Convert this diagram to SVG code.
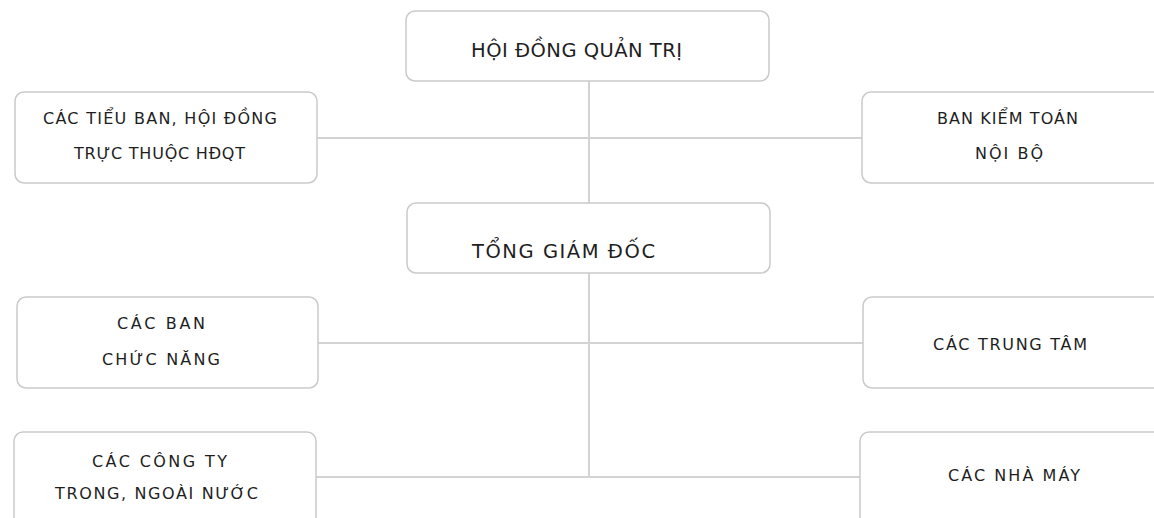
<svg xmlns="http://www.w3.org/2000/svg" width="1154" height="518" viewBox="0 0 1154 518">
<style>
.box{fill:#fff;stroke:#cacaca;stroke-width:1.5}
.ln{stroke:#d3d3d3;stroke-width:2;fill:none}
text{font-family:"DejaVu Sans","Liberation Sans",sans-serif;fill:#1e1e1e;text-anchor:middle}
.big{font-size:19.5px}
.sm{font-size:16px}
</style>
<rect width="1154" height="518" fill="#fff"/>
<g id="connectors">
<line class="ln" x1="589" y1="81" x2="589" y2="477"/>
<line class="ln" x1="317" y1="138" x2="862" y2="138"/>
<line class="ln" x1="318" y1="343" x2="863" y2="343"/>
<line class="ln" x1="316" y1="477" x2="860" y2="477"/>
</g>
<g id="hdqt">
<rect class="box" x="406" y="11" width="363" height="70" rx="9"/>
<text class="big" x="576.5" y="57" textLength="211" lengthAdjust="spacing">HỘI ĐỒNG QUẢN TRỊ</text>
</g>
<g id="tieuban">
<rect class="box" x="15" y="92" width="302" height="91" rx="9"/>
<text class="sm" x="160" y="124" textLength="234" lengthAdjust="spacing">CÁC TIỂU BAN, HỘI ĐỒNG</text>
<text class="sm" x="159.5" y="159" textLength="171" lengthAdjust="spacing">TRỰC THUỘC HĐQT</text>
</g>
<g id="kiemtoan">
<rect class="box" x="862" y="92" width="310" height="91" rx="9"/>
<text class="sm" x="1007.5" y="124" textLength="141" lengthAdjust="spacing">BAN KIỂM TOÁN</text>
<text class="sm" x="1009" y="159" textLength="68" lengthAdjust="spacing">NỘI BỘ</text>
</g>
<g id="tgd">
<rect class="box" x="407" y="203" width="363" height="70" rx="9"/>
<text class="big" x="563.5" y="258" textLength="183" lengthAdjust="spacing">TỔNG GIÁM ĐỐC</text>
</g>
<g id="cacban">
<rect class="box" x="17" y="297" width="301" height="91" rx="9"/>
<text class="sm" x="161" y="329" textLength="88" lengthAdjust="spacing">CÁC BAN</text>
<text class="sm" x="161" y="365" textLength="118" lengthAdjust="spacing">CHỨC NĂNG</text>
</g>
<g id="trungtam">
<rect class="box" x="863" y="297" width="310" height="91" rx="9"/>
<text class="sm" x="1010" y="350" textLength="154" lengthAdjust="spacing">CÁC TRUNG TÂM</text>
</g>
<g id="congty">
<rect class="box" x="14" y="432" width="302" height="100" rx="9"/>
<text class="sm" x="159.5" y="467" textLength="135" lengthAdjust="spacing">CÁC CÔNG TY</text>
<text class="sm" x="156.5" y="499" textLength="203" lengthAdjust="spacing">TRONG, NGOÀI NƯỚC</text>
</g>
<g id="nhamay">
<rect class="box" x="860" y="432" width="310" height="100" rx="9"/>
<text class="sm" x="1014" y="481" textLength="132" lengthAdjust="spacing">CÁC NHÀ MÁY</text>
</g>
</svg>
